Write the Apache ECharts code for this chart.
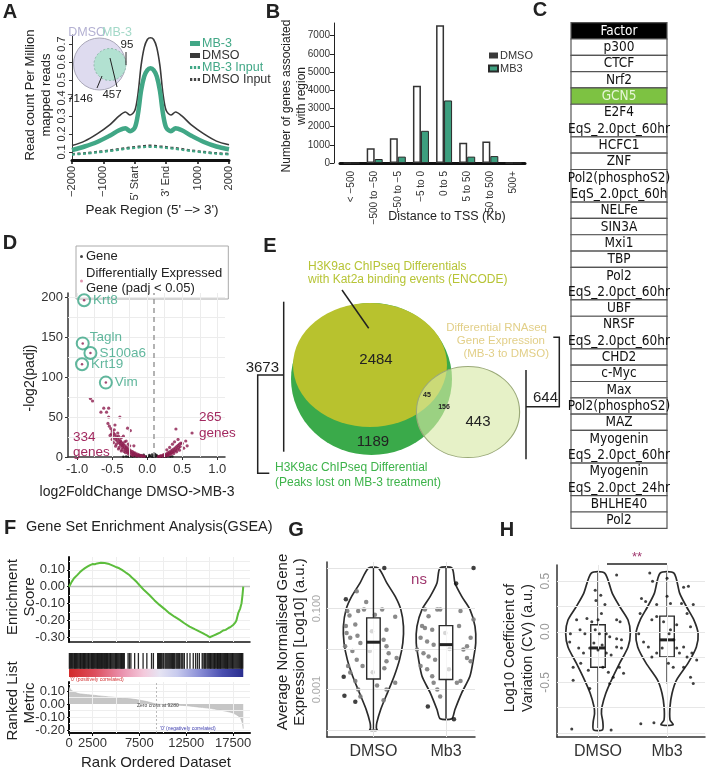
<!DOCTYPE html>
<html><head><meta charset="utf-8">
<script src="https://cdn.jsdelivr.net/npm/echarts@6.0.0/dist/echarts.min.js"></script>
<style>html,body{margin:0;padding:0;background:#fff;}#c{width:709px;height:772px;}</style>
</head><body><div id="c"></div>
<script>
// ================= DATA =================
// Panel A: metagene profile (x in bins: 0=-2000 ... 2=5' Start, 3=3' End ... 5=2000)
const aPos      = [0,0.4,0.8,1.2,1.5,1.7,1.85,2.0,2.1,2.2,2.3,2.4,2.5,2.6,2.7,2.8,2.9,3.0,3.15,3.3,3.5,3.8,4.2,4.6,5.0];
const aDMSO     = [0.135,0.16,0.2,0.25,0.30,0.322,0.305,0.33,0.42,0.58,0.68,0.725,0.735,0.725,0.68,0.58,0.42,0.33,0.305,0.322,0.30,0.25,0.2,0.16,0.14];
const aMB3      = [0.11,0.13,0.155,0.19,0.22,0.232,0.215,0.235,0.31,0.44,0.52,0.555,0.565,0.555,0.52,0.44,0.31,0.235,0.215,0.232,0.22,0.19,0.155,0.13,0.115];
const aMB3In    = [0.085,0.09,0.097,0.105,0.112,0.117,0.12,0.122,0.124,0.126,0.127,0.128,0.128,0.128,0.127,0.126,0.124,0.122,0.12,0.117,0.112,0.105,0.097,0.09,0.086];
const aDMSOIn   = [0.088,0.093,0.1,0.108,0.116,0.121,0.124,0.127,0.129,0.131,0.133,0.134,0.135,0.134,0.133,0.131,0.129,0.127,0.124,0.121,0.116,0.108,0.1,0.093,0.089];
const aXLabels  = ['\u22122000','\u22121000',"5' Start","3' End",'1000','2000'];
const aYTicks   = [0.1,0.2,0.3,0.4,0.5,0.6,0.7];
const aVennSets = ['DMSO','MB-3'];
const aVennCounts = ['7146','457','95'];
const aVennGeom = [[39.5,39,26,26],[50,39.5,16,16]];

// Panel B
const bCats = ['< \u2212500','\u2212500 to \u221250','\u221250 to \u22125','\u22125 to 0','0 to 5','5 to 50','50 to 500','500+'];
const bDMSO = [0,810,1360,4250,7570,1120,1180,0];
const bMB3  = [0,220,350,1770,3440,350,380,0];

// Panel C
const cFactors = ['Factor','p300','CTCF','Nrf2','GCN5','E2F4\nEqS_2.0pct_60hr','HCFC1','ZNF','Pol2(phosphoS2)\nEqS_2.0pct_60h','NELFe','SIN3A','Mxi1','TBP','Pol2\nEqS_2.0pct_60hr','UBF','NRSF\nEqS_2.0pct_60hr','CHD2','c-Myc','Max','Pol2(phosphoS2)','MAZ','Myogenin\nEqS_2.0pct_60hr','Myogenin\nEqS_2.0pct_24hr','BHLHE40','Pol2'];
const cHighlight = 'GCN5';

// Panel D: volcano
const dGenes = [[-0.34,0.3],[-0.3,0.6],[-0.27,0.2],[-0.24,0.8],[-0.21,0.4],[-0.18,1.0],[-0.15,0.5],[-0.13,1.4],[-0.1,0.8],[-0.08,1.8],[-0.06,0.6],[-0.04,1.2],[-0.02,0.3],[0.0,0.9],[0.02,0.4],[0.04,1.6],[0.06,0.7],[0.08,0.2],[0.1,1.1],[0.12,0.5],[0.14,1.5],[0.16,0.3],[0.18,0.9],[0.2,0.4],[0.22,1.2],[0.24,0.6],[0.27,0.3],[0.3,0.8],[0.33,0.2],[0.36,0.5],[-0.11,2.4],[0.03,2.5],[0.09,2.0],[-0.05,2.8],[0.13,2.6],[0.07,3.2],[0.11,3.6]];
const dDE = [[-0.04,0.8],[-0.06,1.4],[-0.08,1.0],[-0.09,2.0],[-0.11,1.5],[-0.12,2.8],[-0.13,1.8],[-0.14,3.6],[-0.16,2.5],[-0.17,4.8],[-0.18,3.2],[-0.19,5.6],[-0.2,4.0],[-0.21,6.6],[-0.22,4.4],[-0.23,7.5],[-0.24,5.6],[-0.25,9.0],[-0.26,6.4],[-0.27,10.2],[-0.28,7.4],[-0.29,11.5],[-0.3,8.3],[-0.3,12.8],[-0.31,10.0],[-0.32,14.2],[-0.33,11.0],[-0.34,15.5],[-0.35,12.5],[-0.35,17.0],[-0.36,14.0],[-0.37,18.5],[-0.38,15.0],[-0.38,20.0],[-0.39,17.0],[-0.4,21.5],[-0.41,18.0],[-0.42,23.5],[-0.43,20.0],[-0.44,25.5],[-0.45,22.0],[-0.46,28.0],[-0.47,24.0],[-0.48,30.0],[-0.49,27.0],[-0.5,32.5],[-0.52,35.5],[-0.51,29.0],[-0.54,38.5],[-0.56,42.0],[-0.33,7.0],[-0.28,5.0],[-0.4,12.0],[-0.22,2.5],[-0.36,9.5],[-0.44,16.0],[-0.3,20.0],[-0.25,14.0],[-0.42,30.0],[-0.46,40.0],[-0.39,50.0],[-0.28,36.0],[-0.24,33.0],[-0.55,50.0],[-0.58,56.0],[-0.66,56.0],[-0.62,61.0],[-0.55,61.0],[-0.78,70.0],[-0.81,73.0],[-0.19,14.0],[-0.34,26.0],
  [-0.15,1.2],[-0.2,2.0],[-0.26,3.5],[-0.31,5.5],[-0.37,7.5],[-0.41,10.0],[-0.45,13.5],[-0.48,18.0],[-0.5,22.0],[-0.53,27.0],[-0.27,16.0],[-0.32,19.0],[-0.37,24.0],[-0.41,26.0],[-0.47,34.0],
  [0.16,0.6],[0.18,1.2],[0.19,0.8],[0.2,1.8],[0.22,1.2],[0.23,2.6],[0.24,1.6],[0.25,3.4],[0.27,2.4],[0.28,4.4],[0.29,3.0],[0.3,5.4],[0.31,3.8],[0.32,6.4],[0.33,4.6],[0.34,7.6],[0.35,5.5],[0.36,8.8],[0.37,6.5],[0.38,10.0],[0.39,7.5],[0.4,11.5],[0.41,8.5],[0.42,13.0],[0.43,10.0],[0.44,14.5],[0.45,11.5],[0.46,16.0],[0.47,13.0],[0.48,17.5],[0.5,17.0],[0.41,35.0],[0.64,30.0],[0.57,14.0],[0.52,11.0],[0.36,16.0],[0.32,12.0],[0.44,22.0],[0.39,19.0],[0.55,20.0],[0.28,9.0],[0.26,1.2],[0.3,2.0],[0.34,3.2],[0.38,4.5],[0.42,6.5],[0.46,8.5]];
const dLabelNames = ['Krt8','Tagln','S100a6','Krt19','Vim'];
const dLabelX = [-0.9,-0.92,-0.81,-0.93,-0.59];
const dLabelY = [196,142,130,116,93];
const dCounts = ['334','265'];

// Panel E: Venn
const eCounts = ['2484','1189','45','156','443'];
const eCountPos = [[136,110],[133,192],[187,145],[204,157],[238,172]];
const eGeom = [[131.5,129,80.5,76],[130,115,77,62],[228,162,51.6,45.6]];
const eTotals = ['3673','644'];

// Panel F: GSEA
const fEsRank = [0,150,300,536,700,900,1150,1430,1700,2000,2250,2500,2750,3000,3200,3400,3600,3800,4050,4290,4550,4800,5080,5360,5650,5900,6150,6430,6700,7000,7250,7500,8000,8570,9100,9650,10200,10700,11250,11800,12300,12860,13400,13930,14250,14500,14750,15000,15200,15400,15720,15900,16100,16300,16430,16700,17000,17250,17500,17700,17850,18040,18250,18400,18500,18580];
const fEsVal  = [0,0.015,0.03,0.05,0.055,0.07,0.085,0.099,0.11,0.12,0.128,0.134,0.133,0.138,0.14,0.142,0.141,0.14,0.137,0.134,0.128,0.122,0.115,0.109,0.1,0.09,0.08,0.069,0.055,0.04,0.026,0.01,-0.02,-0.049,-0.08,-0.108,-0.133,-0.157,-0.178,-0.197,-0.217,-0.237,-0.252,-0.266,-0.275,-0.283,-0.29,-0.30,-0.296,-0.29,-0.282,-0.284,-0.272,-0.27,-0.26,-0.256,-0.245,-0.238,-0.227,-0.215,-0.2,-0.157,-0.13,-0.098,-0.05,0];
const fHits = [40,150,250,340,420,520,600,700,780,870,950,1050,1150,1230,1300,1400,1480,1560,1650,1720,1800,1900,2000,2080,2150,2250,2350,2420,2500,2600,2700,2800,2900,2980,3050,3150,3250,3350,3450,3530,3600,3700,3800,3900,4000,4080,4150,4250,4350,4420,4500,4600,4700,4800,4900,4980,5050,5150,5250,5350,5450,5530,5600,5700,5800,5900,6300,6450,6600,7000,7400,7900,8300,8800,9000,9450,9550,9650,9750,9850,10000,10100,10250,10350,10450,10550,10650,10750,10850,10950,11050,11150,11250,11400,11500,11600,11700,11800,11950,12050,12150,12300,12600,12900,13250,13500,13700,13900,14200,14300,14450,14550,14700,14800,14900,15000,15100,15150,15250,15350,15450,15500,15600,15700,15800,15850,15950,16050,16150,16200,16300,16400,16500,16600,16700,16800,16900,16950,17050,17150,17250,17350,17450,17500,17600,17700,17800,17900,18000,18100,18200,18300,18400,18450,18530];
const fRankX   = [0,100,250,500,1000,1500,2500,3500,5000,6500,7500,8500,9280,10500,12500,14000,15000,16000,17000,17500,18000,18300,18500,18580];
const fRankVal = [0.13,0.12,0.105,0.095,0.08,0.075,0.068,0.06,0.05,0.04,0.03,0.015,0,-0.005,-0.013,-0.025,-0.033,-0.045,-0.06,-0.07,-0.09,-0.11,-0.15,-0.19];
const fZeroCross = 9280;
const fXTicks = [0,2500,7500,12500,17500];

// Panel G (log10 expression)
const gCats = ['DMSO','Mb3'];
const gViolinDMSO = [[0.0,0.069],[-0.365,0.184],[-0.70,0.30],[-1.02,0.377],[-1.44,0.414],[-1.85,0.405],[-2.26,0.36],[-2.67,0.286],[-3.08,0.193],[-3.49,0.10],[-3.82,0.046],[-3.95,0.04],[-4.0,0.05]];
const gViolinMb3  = [[0.0,0.083],[-0.37,0.124],[-0.70,0.217],[-1.02,0.33],[-1.44,0.40],[-1.85,0.41],[-2.26,0.377],[-2.67,0.33],[-3.08,0.217],[-3.49,0.124],[-3.72,0.08]];
const gBoxes = [[0,-3.99,-2.74,-1.83,-1.23,0.0],[1,-3.72,-2.75,-1.89,-1.42,0.0]];
const gDotsDMSO = [[-0.23,-0.57],[-0.10,-0.84],[-0.36,-1.06],[-0.21,-1.06],[-0.13,-1.02],[-0.33,-1.17],[0.30,-1.20],[-0.38,-1.43],[-0.25,-1.39],[-0.37,-1.60],[-0.22,-1.67],[-0.32,-1.72],[-0.18,-1.85],[-0.39,-1.93],[0.18,-1.52],[0.14,-1.77],[0.18,-1.93],[0.21,-2.10],[-0.29,-2.05],[-0.23,-2.26],[-0.35,-2.42],[-0.15,-2.42],[0.18,-2.30],[0.15,-2.47],[0.32,-2.22],[-0.32,-2.58],[-0.25,-2.79],[0.30,-2.83],[-0.21,-3.0],[0.18,-3.0],[-0.18,-3.17],[0.14,-3.26],[-0.02,-1.56],[-0.01,-2.57],[0.12,-1.02],[0.02,-1.15],[-0.05,-2.05],[0.05,-2.9]];
const gOutDMSO = [[0.15,0.0],[-0.38,-0.77],[-0.41,-2.68],[-0.40,-3.15],[-0.25,-3.30]];
const gDotsMb3 = [[-0.12,-1.02],[-0.08,-1.02],[-0.24,-1.19],[-0.33,-1.43],[-0.29,-1.48],[-0.19,-1.52],[-0.35,-1.72],[-0.26,-1.81],[-0.17,-1.89],[-0.40,-2.01],[-0.31,-2.10],[-0.24,-2.18],[-0.15,-2.26],[-0.35,-2.42],[-0.26,-2.50],[-0.19,-2.67],[-0.17,-2.83],[-0.12,-3.0],[-0.08,-3.17],[0.04,-2.50],[-0.01,-1.60],[0.20,-1.06],[0.34,-1.72],[0.29,-1.93],[0.24,-2.01],[0.34,-2.30],[0.20,-2.79],[0.15,-2.83],[0.29,-2.22],[0.38,-1.27],[0.18,-1.43],[-0.29,-1.02],[0.05,-2.0]];
const gOutMb3 = [[0.14,-0.38],[0.38,0.0],[-0.25,-3.42],[0.11,-3.73]];
const gYTicks = [-1,-3];
const gYLabels = {'-1':'0.100','-3':'0.001'};

// Panel H (log10 CV)
const hViolinDMSO = [[0.58,0.097],[0.38,0.207],[0.25,0.314],[0.116,0.435],[-0.016,0.468],[-0.15,0.435],[-0.31,0.314],[-0.48,0.193],[-0.61,0.112],[-0.74,0.058],[-0.81,0.05],[-0.89,0.07],[-0.97,0.065]];
const hViolinMb3  = [[0.58,0.10],[0.38,0.184],[0.25,0.28],[0.116,0.39],[-0.016,0.45],[-0.15,0.425],[-0.31,0.304],[-0.48,0.135],[-0.61,0.072],[-0.74,0.043],[-0.87,0.043],[-0.92,0.087]];
const hBoxes = [[0,-0.95,-0.35,-0.16,0.07,0.58],[1,-0.51,-0.25,-0.08,0.155,0.58]];
const hDotsDMSO = [[0.27,0.56],[-0.04,0.41],[-0.03,0.31],[0.04,0.36],[0.10,0.27],[-0.31,0.12],[-0.16,0.13],[-0.09,0.10],[0.0,0.12],[0.05,0.18],[0.27,0.12],[0.32,0.10],[-0.40,-0.02],[-0.26,0.02],[-0.19,-0.02],[-0.04,0.02],[0.02,-0.02],[0.12,-0.02],[0.17,-0.05],[0.27,-0.07],[0.34,-0.08],[-0.41,-0.10],[-0.28,-0.16],[-0.21,-0.21],[-0.12,-0.16],[-0.06,-0.11],[0.0,-0.18],[0.06,-0.13],[0.12,-0.21],[0.19,-0.23],[0.27,-0.15],[0.34,-0.16],[-0.36,-0.35],[-0.25,-0.31],[-0.14,-0.38],[0.07,-0.35],[0.15,-0.40],[0.22,-0.45],[0.31,-0.35],[0.37,-0.41],[-0.36,-0.48],[-0.12,-0.56],[0.17,-0.51],[-0.38,-0.96],[0.19,-0.97]];
const hDotsMb3 = [[-0.25,0.58],[-0.21,0.50],[0.0,0.53],[-0.37,0.33],[-0.31,0.30],[-0.15,0.27],[0.0,0.35],[0.05,0.28],[0.24,0.44],[0.31,0.45],[0.21,0.28],[0.38,0.27],[-0.39,0.18],[-0.22,0.12],[-0.15,0.15],[-0.05,0.10],[0.05,0.02],[0.14,0.07],[0.29,0.18],[0.34,0.05],[-0.41,-0.02],[-0.34,-0.10],[-0.27,-0.15],[-0.22,-0.25],[-0.15,-0.21],[-0.07,-0.16],[0.03,-0.02],[0.10,-0.08],[0.14,-0.16],[0.24,-0.15],[0.29,-0.25],[0.36,-0.21],[0.43,-0.28],[0.02,-0.31],[0.09,-0.35],[0.18,-0.21],[0.34,-0.45],[0.38,-0.51],[0.24,-0.35],[-0.38,-0.91],[-0.19,-0.90]];
const hYTicks = [-0.5,0,0.5];

// ================= RENDER =================
const FONT = "'Liberation Sans', Arial, Helvetica, sans-serif";
const NARROW = "'Liberation Sans Narrow','DejaVu Sans Condensed','Open Sans',sans-serif";
const TEAL = '#41a786';
const chart = echarts.init(document.getElementById('c'), null, {renderer:'canvas', width:709, height:772});

function T(text, x, y, o){ o = o || {};
  return {type:'text', x:x, y:y, rotation:o.rot||0, z:100, silent:true,
    style:{text:text, fill:o.color||'#222', font:(o.weight||'normal')+' '+(o.size||13)+'px '+(o.family||FONT),
      align:o.align||'center', verticalAlign:o.va||'middle'}};
}
function L(x1,y1,x2,y2,o){ o=o||{}; return {type:'line', z:100, silent:true, shape:{x1:x1,y1:y1,x2:x2,y2:y2}, style:{stroke:o.color||'#222', lineWidth:o.w||1.5}}; }
function PL(points,o){ o=o||{}; return {type:'polyline', z:100, silent:true, shape:{points:points}, style:{stroke:o.color||'#222', lineWidth:o.w||1.5, fill:null}}; }

function hiddenAxis(gi, min, max, inverse){ return {gridIndex:gi, type:'value', min:min, max:max, inverse:!!inverse, show:false, splitLine:{show:false}}; }
function gridLines(xi, yi, xs, ys, color){
  return {type:'scatter', xAxisIndex:xi, yAxisIndex:yi, data:[], silent:true, z:0,
    markLine:{silent:true, symbol:'none', animation:false, label:{show:false},
      lineStyle:{color:color||'#ebebeb', width:1, type:'solid'},
      data: xs.map(v=>({xAxis:v})).concat(ys.map(v=>({yAxis:v})))}};
}
function ellipseRender(styles){
  return function(params, api){
    const c = api.coord([api.value(0), api.value(1)]);
    const s = api.size([api.value(2), api.value(3)]);
    const rx = Math.abs(s[0]), ry = Math.abs(s[1]);
    return {type:'circle', x:c[0], y:c[1], scaleX:rx/ry, scaleY:1, shape:{cx:0, cy:0, r:ry},
      style:Object.assign({strokeNoScale:true}, styles[params.dataIndex])};
  };
}
function violinRender(profiles){
  return function(params, api){
    const prof = profiles[params.dataIndex], cat = api.value(0);
    const left = prof.map(p=>api.coord([cat - p[1], p[0]]));
    const right = prof.map(p=>api.coord([cat + p[1], p[0]])).reverse();
    return {type:'polygon', shape:{points:left.concat(right), smooth:0.25}, style:{fill:'none', stroke:'#2b2b2b', lineWidth:1.7}};
  };
}
function boxRender(hw, fill){
  return function(params, api){
    const c=api.value(0), lo=api.value(1), q1=api.value(2), md=api.value(3), q3=api.value(4), hi=api.value(5);
    const pLo=api.coord([c,lo]), pHi=api.coord([c,hi]), a=api.coord([c-hw,q3]), b=api.coord([c+hw,q1]);
    const m1=api.coord([c-hw,md]), m2=api.coord([c+hw,md]);
    const st={stroke:'#2b2b2b', lineWidth:1.4};
    return {type:'group', children:[
      {type:'line', shape:{x1:pHi[0],y1:pHi[1],x2:pHi[0],y2:a[1]}, style:st},
      {type:'line', shape:{x1:pLo[0],y1:b[1],x2:pLo[0],y2:pLo[1]}, style:st},
      {type:'rect', shape:{x:a[0],y:a[1],width:b[0]-a[0],height:b[1]-a[1]}, style:{fill:fill, stroke:'#2b2b2b', lineWidth:1.4}},
      {type:'line', shape:{x1:m1[0],y1:m1[1],x2:m2[0],y2:m2[1]}, style:{stroke:'#222', lineWidth:3}}
    ]};
  };
}
function textRender(texts, fonts, colors){
  return function(params, api){
    const p = api.coord([api.value(0), api.value(1)]);
    return {type:'text', x:p[0], y:p[1], style:{text:texts[params.dataIndex], font:fonts[params.dataIndex], fill:colors[params.dataIndex]||'#222', align:'center', verticalAlign:'middle'}};
  };
}

let acc = 0;
const cRows = cFactors.map(f=>{ const n=f.split('\n').length; const r=[acc,n]; acc+=n; return r; });
const cTotal = acc;

const DASH = 'path://M0,0h3v4h-3z M5,0h3v4h-3z M10,0h3v4h-3z';
const axisLabelStyle = {fontFamily:FONT, color:'#333'};
const plain = v=>String(v);

const grids = [
  {left:72, top:35, width:157, height:125},      //0 A
  {left:60, top:25, width:80, height:80},        //1 A venn
  {left:340, top:23, width:185, height:140},     //2 B
  {left:571, top:22.7, width:96, height:505.6},  //3 C
  {left:68, top:293, width:157, height:164},     //4 D
  {left:240, top:250, width:320, height:250},    //5 E
  {left:69, top:557, width:181, height:85},      //6 F ES
  {left:69, top:653, width:181, height:24},      //7 F band
  {left:69, top:682, width:181, height:51},      //8 F ranked
  {left:327, top:562, width:148, height:175},    //9 G
  {left:557, top:565, width:148, height:172}     //10 H
];

const xAxes = [
  {gridIndex:0, type:'value', min:0, max:5, interval:1,
    axisLine:{onZero:false, lineStyle:{color:'#111', width:3}}, axisTick:{length:4, lineStyle:{color:'#111', width:1.5}},
    axisLabel:Object.assign({rotate:90, fontSize:11, margin:6, formatter:v=>aXLabels[Math.round(v)], showMinLabel:true, showMaxLabel:true, hideOverlap:false}, axisLabelStyle),
    splitLine:{show:false}},
  hiddenAxis(1, 0, 80),
  {gridIndex:2, type:'category', data:bCats, axisLine:{onZero:false, lineStyle:{color:'#111', width:3}}, axisTick:{show:false},
    axisLabel:Object.assign({rotate:90, fontSize:10, interval:0, margin:8}, axisLabelStyle), splitLine:{show:false}},
  hiddenAxis(3, 0, 1),
  {gridIndex:4, type:'value', min:-1.13, max:1.11,
    axisLine:{onZero:false, lineStyle:{color:'#333', width:1.5}}, axisTick:{customValues:[-1,-0.5,0,0.5,1], length:3, lineStyle:{color:'#333'}},
    axisLabel:Object.assign({customValues:[-1,-0.5,0,0.5,1], fontSize:13, margin:6, formatter:v=>v.toFixed(1)}, axisLabelStyle), splitLine:{show:false}},
  hiddenAxis(5, 0, 320),
  {gridIndex:6, type:'value', min:0, max:19300, axisLine:{onZero:false, lineStyle:{color:'#111', width:1.5}}, axisTick:{show:false}, axisLabel:{show:false}, splitLine:{show:false}},
  hiddenAxis(7, 0, 19300),
  {gridIndex:8, type:'value', min:0, max:19300, axisLine:{onZero:false, lineStyle:{color:'#111', width:2}},
    axisTick:{customValues:fXTicks, length:3, lineStyle:{color:'#111'}},
    axisLabel:Object.assign({customValues:fXTicks, fontSize:13, margin:4, formatter:plain}, axisLabelStyle), splitLine:{show:false}},
  {gridIndex:9, type:'value', min:-0.64, max:1.4, axisLine:{onZero:false, lineStyle:{color:'#333', width:1.5}}, axisTick:{show:false},
    axisLabel:Object.assign({customValues:[0,1], fontSize:16, margin:7, formatter:v=>gCats[Math.round(v)]}, axisLabelStyle), splitLine:{show:false}},
  {gridIndex:10, type:'value', min:-0.594, max:1.55, axisLine:{onZero:false, lineStyle:{color:'#333', width:1.5}}, axisTick:{show:false},
    axisLabel:Object.assign({customValues:[0,1], fontSize:16, margin:7, formatter:v=>gCats[Math.round(v)]}, axisLabelStyle), splitLine:{show:false}}
];
const yAxes = [
  {gridIndex:0, type:'value', min:0.055, max:0.75,
    axisLine:{show:true, onZero:false, lineStyle:{color:'#333'}}, axisTick:{show:true, customValues:aYTicks, length:3, lineStyle:{color:'#333'}},
    axisLabel:Object.assign({customValues:aYTicks, rotate:90, fontSize:11, margin:5, formatter:v=>v.toFixed(1)}, axisLabelStyle), splitLine:{show:false}},
  hiddenAxis(1, 0, 80, true),
  {gridIndex:2, type:'value', min:0, max:7700, interval:1000, offset:6,
    axisLine:{show:true, onZero:false, lineStyle:{color:'#222'}}, axisTick:{show:true, length:4, lineStyle:{color:'#222'}},
    axisLabel:Object.assign({fontSize:10, margin:4, showMaxLabel:false, formatter:plain}, axisLabelStyle), splitLine:{show:false}},
  hiddenAxis(3, 0, cTotal, true),
  {gridIndex:4, type:'value', min:0, max:205, interval:50,
    axisLine:{show:true, onZero:false, lineStyle:{color:'#333', width:1.5}}, axisTick:{show:true, length:3, lineStyle:{color:'#333'}},
    axisLabel:Object.assign({fontSize:13, margin:5}, axisLabelStyle), splitLine:{show:false}},
  hiddenAxis(5, 0, 250, true),
  {gridIndex:6, type:'value', min:-0.328, max:0.176,
    axisLine:{show:true, onZero:false, lineStyle:{color:'#111', width:2}}, axisTick:{show:true, customValues:[-0.3,-0.2,-0.1,0,0.1], length:2, lineStyle:{color:'#111'}},
    axisLabel:Object.assign({customValues:[-0.3,-0.2,-0.1,0,0.1], fontSize:13, margin:4, formatter:v=>v.toFixed(2)}, axisLabelStyle), splitLine:{show:false}},
  hiddenAxis(7, 0, 1),
  {gridIndex:8, type:'value', min:-0.223, max:0.169,
    axisLine:{show:true, onZero:false, lineStyle:{color:'#111', width:2}}, axisTick:{show:true, customValues:[-0.2,-0.1,0,0.1], length:2, lineStyle:{color:'#111'}},
    axisLabel:Object.assign({customValues:[-0.2,-0.1,0,0.1], fontSize:13, margin:4, formatter:v=>v.toFixed(2)}, axisLabelStyle), splitLine:{show:false}},
  {gridIndex:9, type:'value', min:-4.17, max:0.15,
    axisLine:{show:true, onZero:false, lineStyle:{color:'#333', width:1.5}}, axisTick:{show:false},
    axisLabel:{customValues:gYTicks, rotate:90, fontSize:11, margin:5, color:'#aaa', fontFamily:FONT, formatter:v=>gYLabels[String(v)]}, splitLine:{show:false}},
  {gridIndex:10, type:'value', min:-1.04, max:0.66,
    axisLine:{show:true, onZero:false, lineStyle:{color:'#333', width:1.5}}, axisTick:{show:false},
    axisLabel:{customValues:hYTicks, rotate:90, fontSize:12, margin:5, color:'#999', fontFamily:FONT, formatter:v=>v.toFixed(1)}, splitLine:{show:false}}
];

const series = [];
// ---- A
series.push({type:'line', name:'DMSO Input', xAxisIndex:0, yAxisIndex:0, data:aPos.map((x,i)=>[x,aDMSOIn[i]]), smooth:0.3, showSymbol:false, lineStyle:{color:'#444', width:2.2, type:[3,2.5]}, itemStyle:{color:'#444'}, z:2});
series.push({type:'line', name:'MB-3 Input', xAxisIndex:0, yAxisIndex:0, data:aPos.map((x,i)=>[x,aMB3In[i]]), smooth:0.3, showSymbol:false, lineStyle:{color:TEAL, width:2.2, type:[3,2.5]}, itemStyle:{color:TEAL}, z:3});
series.push({type:'line', name:'DMSO', xAxisIndex:0, yAxisIndex:0, data:aPos.map((x,i)=>[x,aDMSO[i]]), smooth:0.3, showSymbol:false, lineStyle:{color:'#3a3a3a', width:1.6}, itemStyle:{color:'#3a3a3a'}, z:4});
series.push({type:'line', name:'MB-3', xAxisIndex:0, yAxisIndex:0, data:aPos.map((x,i)=>[x,aMB3[i]]), smooth:0.3, showSymbol:false, lineStyle:{color:TEAL, width:4.5}, itemStyle:{color:TEAL}, z:5});
series.push({type:'custom', xAxisIndex:1, yAxisIndex:1, clip:false, silent:true, z:6, data:aVennGeom,
  renderItem:ellipseRender([{fill:'#dedbef', stroke:'#a9a7b8', lineWidth:1},{fill:'#b2e1d1', stroke:'#8fb8ab', lineWidth:1, lineDash:[2,2]}])});
// ---- B
series.push({type:'bar', name:'DMSO', xAxisIndex:2, yAxisIndex:2, data:bDMSO, barWidth:8, barGap:'0%', itemStyle:{color:'#fff', borderColor:'#333', borderWidth:1.5}});
series.push({type:'bar', name:'MB3', xAxisIndex:2, yAxisIndex:2, data:bMB3, barWidth:8, barGap:'0%', itemStyle:{color:'#3d9f7f', borderColor:'#2a2a2a', borderWidth:1}});
// ---- C table
series.push({type:'custom', xAxisIndex:3, yAxisIndex:3, clip:false, silent:true, data:cRows,
  renderItem:function(params, api){
    const i=params.dataIndex, s=api.value(0), n=api.value(1);
    const p0=api.coord([0,s]), p1=api.coord([1,s+n]);
    const name=cFactors[i];
    const fill = i===0 ? '#000' : (name===cHighlight ? '#7dc242' : '#fff');
    const tcol = i===0 ? '#fff' : (name===cHighlight ? '#e6f6d6' : '#111');
    return {type:'group', children:[
      {type:'rect', shape:{x:p0[0], y:p0[1], width:p1[0]-p0[0], height:p1[1]-p0[1]}, style:{fill:fill, stroke:'#555', lineWidth:1.2}},
      {type:'text', style:{text:name, x:(p0[0]+p1[0])/2, y:(p0[1]+p1[1])/2+0.5, align:'center', verticalAlign:'middle', font:'13.5px '+NARROW, fill:tcol, lineHeight:(p1[1]-p0[1])/n}}
    ]};
  }});
// ---- D
series.push(gridLines(4,4,[-1,-0.75,-0.5,-0.25,0,0.25,0.5,0.75,1],[25,50,75,100,125,150,175,200],'#ececec'));
series.push({type:'scatter', name:'Gene', xAxisIndex:4, yAxisIndex:4, data:dGenes, symbolSize:2.5, itemStyle:{color:'#111'}, z:3});
series.push({type:'scatter', name:'Differentially Expressed\nGene (padj < 0.05)', xAxisIndex:4, yAxisIndex:4, data:dDE, symbolSize:3.2, itemStyle:{color:'#8c1c4d'}, z:4,
  markLine:{silent:true, symbol:'none', label:{show:false}, lineStyle:{color:'#9a9a9a', width:1.5, type:[5,4]}, data:[{xAxis:0.1}]}});
series.push({type:'scatter', xAxisIndex:4, yAxisIndex:4, data:dLabelX.map((x,i)=>({name:dLabelNames[i], value:[x,dLabelY[i]]})), symbolSize:2.5, itemStyle:{color:'#8c1c4d'}, z:5});
series.push({type:'scatter', xAxisIndex:4, yAxisIndex:4, data:dLabelX.map((x,i)=>({name:dLabelNames[i], value:[x,dLabelY[i]],
    label:{offset: dLabelNames[i]==='Tagln' ? [-2,-6] : [0,0]}})), symbolSize:12,
  itemStyle:{color:'rgba(0,0,0,0)', borderColor:'#3aa584', borderWidth:2}, z:6,
  label:{show:true, position:'right', distance:2, formatter:p=>p.name, color:'#3aa584', fontSize:13.5, fontFamily:FONT}});
// ---- E venn
series.push({type:'custom', xAxisIndex:5, yAxisIndex:5, clip:false, silent:true, data:eGeom, z:2,
  renderItem:ellipseRender([{fill:'#3aaa4a'},{fill:'#b8c22e'},{fill:'rgba(214,232,165,0.62)', stroke:'#9aa978', lineWidth:1}])});
series.push({type:'custom', xAxisIndex:5, yAxisIndex:5, clip:false, silent:true, data:eCountPos, z:3,
  renderItem:textRender(eCounts, ['15px '+FONT,'15px '+FONT,'bold 7px '+FONT,'bold 7px '+FONT,'15px '+FONT], ['#222','#222','#222','#222','#222'])});
// ---- F ES
series.push(gridLines(6,6,[2500,5000,7500,10000,12500,15000,17500],[-0.3,-0.25,-0.2,-0.15,-0.1,-0.05,0.05,0.1,0.15],'#eeeeee'));
series.push({type:'line', xAxisIndex:6, yAxisIndex:6, data:[], silent:true,
  markLine:{silent:true, symbol:'none', label:{show:false}, lineStyle:{color:'#bdbdbd', width:1.3, type:'solid'}, data:[{yAxis:0}]}});
series.push({type:'line', xAxisIndex:6, yAxisIndex:6, data:fEsRank.map((r,i)=>[r,fEsVal[i]]), showSymbol:false, lineStyle:{color:'#5cbd3c', width:2}, z:5});
// ---- F band
series.push({type:'custom', xAxisIndex:7, yAxisIndex:7, silent:true, data:[[0, fRankX[fRankX.length-1]]], z:2,
  renderItem:function(params, api){
    const a=api.coord([api.value(0),0.34]), b=api.coord([api.value(1),0]);
    return {type:'rect', shape:{x:a[0], y:a[1], width:b[0]-a[0], height:b[1]-a[1]},
      style:{fill:new echarts.graphic.LinearGradient(0,0,1,0,[
        {offset:0,color:'#d22a2a'},{offset:0.15,color:'#dd4f5e'},{offset:0.3,color:'#ea90ac'},{offset:0.43,color:'#f4cadc'},
        {offset:0.52,color:'#e6e4f3'},{offset:0.62,color:'#c8cbee'},{offset:0.75,color:'#8a8ed6'},{offset:0.88,color:'#4a4fb0'},{offset:1,color:'#2a2e8e'}])}};
  }});
series.push({type:'custom', xAxisIndex:7, yAxisIndex:7, silent:true, data:fHits, z:3,
  renderItem:function(params, api){
    const a=api.coord([api.value(0),1]), b=api.coord([api.value(0),0.34]);
    return {type:'line', shape:{x1:a[0],y1:a[1],x2:b[0],y2:b[1]}, style:{stroke:'#111', lineWidth:1.3, opacity:0.9}};
  }});
// ---- F ranked
series.push(gridLines(8,8,[2500,5000,7500,10000,12500,15000,17500],[-0.2,-0.15,-0.1,-0.05,0.05,0.1,0.15],'#eeeeee'));
series.push({type:'line', xAxisIndex:8, yAxisIndex:8, data:fRankX.map((r,i)=>[r,fRankVal[i]]), showSymbol:false, smooth:0.2,
  lineStyle:{color:'#b5b5b5', width:0.6}, areaStyle:{color:'#c6c6c6', opacity:1}, z:3,
  markLine:{silent:true, symbol:'none', label:{show:false}, lineStyle:{color:'#aaa', width:0.8, type:[2,2]}, data:[{xAxis:fZeroCross}]}});
// ---- G
series.push(gridLines(9,9,[0,1],[0,-1,-2,-3,-4],'#e4e4e4'));
series.push({type:'custom', xAxisIndex:9, yAxisIndex:9, silent:true, data:[[0],[1]], z:3, renderItem:violinRender([gViolinDMSO, gViolinMb3])});
series.push({type:'scatter', xAxisIndex:9, yAxisIndex:9, data:gDotsDMSO.map(p=>[0+p[0],p[1]]).concat(gDotsMb3.map(p=>[1+p[0],p[1]])), symbolSize:4.5, itemStyle:{color:'#7d7d7d', opacity:0.9}, z:4});
series.push({type:'custom', xAxisIndex:9, yAxisIndex:9, silent:true, data:gBoxes, z:5, renderItem:boxRender(0.093,'rgba(255,255,255,0.65)')});
series.push({type:'scatter', xAxisIndex:9, yAxisIndex:9, data:gOutDMSO.map(p=>[0+p[0],p[1]]).concat(gOutMb3.map(p=>[1+p[0],p[1]])), symbolSize:4.5, itemStyle:{color:'#111'}, z:6});
// ---- H
series.push(gridLines(10,10,[0,1],[-1,-0.75,-0.5,-0.25,0,0.25,0.5],'#e7e7e7'));
series.push({type:'custom', xAxisIndex:10, yAxisIndex:10, silent:true, data:[[0],[1]], z:3, renderItem:violinRender([hViolinDMSO, hViolinMb3])});
series.push({type:'custom', xAxisIndex:10, yAxisIndex:10, silent:true, data:hBoxes, z:4, renderItem:boxRender(0.105,'none')});
series.push({type:'scatter', xAxisIndex:10, yAxisIndex:10, data:hDotsDMSO.map(p=>[0+p[0],p[1]]).concat(hDotsMb3.map(p=>[1+p[0],p[1]])), symbolSize:3, itemStyle:{color:'#111'}, z:5});

const graphic = [
  T('A',10,12,{size:20,weight:'bold'}), T('B',273,12,{size:20,weight:'bold'}), T('C',540,10,{size:20,weight:'bold'}),
  T('D',10,243,{size:20,weight:'bold'}), T('E',270,246,{size:20,weight:'bold'}), T('F',10,528,{size:20,weight:'bold'}),
  T('G',296,530,{size:20,weight:'bold'}), T('H',507,530,{size:20,weight:'bold'}),
  // A
  T('Read count Per Million',30,95,{rot:Math.PI/2,size:13}), T('mapped reads',46,95,{rot:Math.PI/2,size:13}),
  T("Peak Region (5' \u2013> 3')",152,210,{size:13.5}),
  T(aVennSets[0],87,33,{size:12.5,color:'#b3b0d2'}), T(aVennSets[1],117,33,{size:12.5,color:'#a3d9c8'}),
  T(aVennCounts[2],127,45,{size:11.5}), T(aVennCounts[0],80,99,{size:11.5}), T(aVennCounts[1],112,95,{size:11.5}),
  L(126,52,126,65,{w:1}), L(97,88,102,76,{w:1}), L(117,87,110,58,{w:1}),
  // B
  T('Number of genes associated',287,96,{rot:Math.PI/2,size:12}), T('with region',302,96,{rot:Math.PI/2,size:12}),
  T('Distance to TSS (Kb)',447,217,{size:12.5}),
  // D
  T('-log2(padj)',30,378,{rot:Math.PI/2,size:14}), T('log2FoldChange DMSO->MB-3',137,492,{size:14}),
  T(dCounts[0],73,437,{size:13.5,color:'#a2285f',align:'left'}), T('genes',73,452,{size:13.5,color:'#a2285f',align:'left'}),
  T(dCounts[1],199,417,{size:13.5,color:'#a2285f',align:'left'}), T('genes',199,433,{size:13.5,color:'#a2285f',align:'left'}),
  // E
  T('H3K9ac ChIPseq Differentials',308,267,{size:12,color:'#b7c436',align:'left'}),
  T('with Kat2a binding events (ENCODE)',308,280,{size:12,color:'#b7c436',align:'left'}),
  T('Differential RNAseq',547,328,{size:11.5,color:'#e2cf88',align:'right'}),
  T('Gene Expression',545,341,{size:11.5,color:'#e2cf88',align:'right'}),
  T('(MB-3 to DMSO)',549,354,{size:11.5,color:'#e2cf88',align:'right'}),
  T('H3K9ac ChIPseq Differential',275,468,{size:12,color:'#3db34a',align:'left'}),
  T('(Peaks lost on MB-3 treatment)',275,483,{size:12,color:'#3db34a',align:'left'}),
  T(eTotals[0],279,368,{size:15,align:'right'}), T(eTotals[1],558,398,{size:15,align:'right'}),
  L(342,290,368.7,328.3,{w:1.5}),
  L(283.7,301.7,283.7,451.7), PL([[283.7,375],[257.7,375],[257.7,473.3],[269.3,473.3]]),
  L(526,370,526,459.3), PL([[526,406.7],[559.3,406.7],[559.3,337.3],[553.3,337.3]]),
  // F
  T('Gene Set Enrichment Analysis(GSEA)',26,527,{size:14.5,align:'left'}),
  T('Enrichment',13,597,{rot:Math.PI/2,size:15}), T('Score',30,597,{rot:Math.PI/2,size:15}),
  T('Ranked List',13,701,{rot:Math.PI/2,size:15}), T('Metric',30,703,{rot:Math.PI/2,size:15}),
  T('Rank Ordered Dataset',156,763,{size:15}),
  T("'0' (positively correlated)",70,680,{size:5,color:'#d03030',align:'left'}),
  T('Zero cross at 9280',137,706,{size:5,color:'#444',align:'left'}),
  T("'0' (negatively correlated)",160,729,{size:5,color:'#4040b0',align:'left'}),
  // G
  T('Average Normalised Gene',283,642,{rot:Math.PI/2,size:15}), T('Expression [Log10] (a.u.)',300,642,{rot:Math.PI/2,size:15}),
  T('ns',419,580,{size:15,color:'#a0396f'}),
  // H
  T('Log10 Coefficient of',510,648,{rot:Math.PI/2,size:14.5}), T('Variation (CV) (a.u.)',528,648,{rot:Math.PI/2,size:14.5}),
  T('**',637,557,{size:13,color:'#a0396f'}), L(607,564,667,564,{w:1.5})
];

chart.setOption({
  animation:false,
  textStyle:{fontFamily:FONT},
  grid:grids, xAxis:xAxes, yAxis:yAxes, series:series, graphic:graphic,
  legend:[
    {left:185, top:32, orient:'vertical', itemGap:-1, itemWidth:10, itemHeight:5, selectedMode:false,
      textStyle:{fontSize:12.5, fontFamily:FONT, padding:[0,0,0,-3]},
      data:[{name:'MB-3', icon:'rect', textStyle:{color:TEAL}},{name:'DMSO', icon:'rect', textStyle:{color:'#333'}},
            {name:'MB-3 Input', icon:DASH, textStyle:{color:TEAL}},{name:'DMSO Input', icon:DASH, textStyle:{color:'#333'}}]},
    {left:483, top:45, orient:'vertical', itemGap:2, itemWidth:9, itemHeight:6, icon:'rect', selectedMode:false,
      textStyle:{fontSize:11, fontFamily:FONT, color:'#333', padding:[0,0,0,-3]}, data:['DMSO','MB3']},
    {left:76, top:246, orient:'vertical', itemGap:2, itemWidth:3, itemHeight:3, icon:'circle', selectedMode:false,
      borderColor:'#aaa', borderWidth:1, padding:[3,6,3,4],
      textStyle:{fontSize:13, fontFamily:FONT, color:'#222', lineHeight:15, padding:[0,0,0,-2]},
      data:['Gene', {name:'Differentially Expressed\nGene (padj < 0.05)', itemStyle:{color:'#d77a9a'}}]}
  ]
});
</script></body></html>
